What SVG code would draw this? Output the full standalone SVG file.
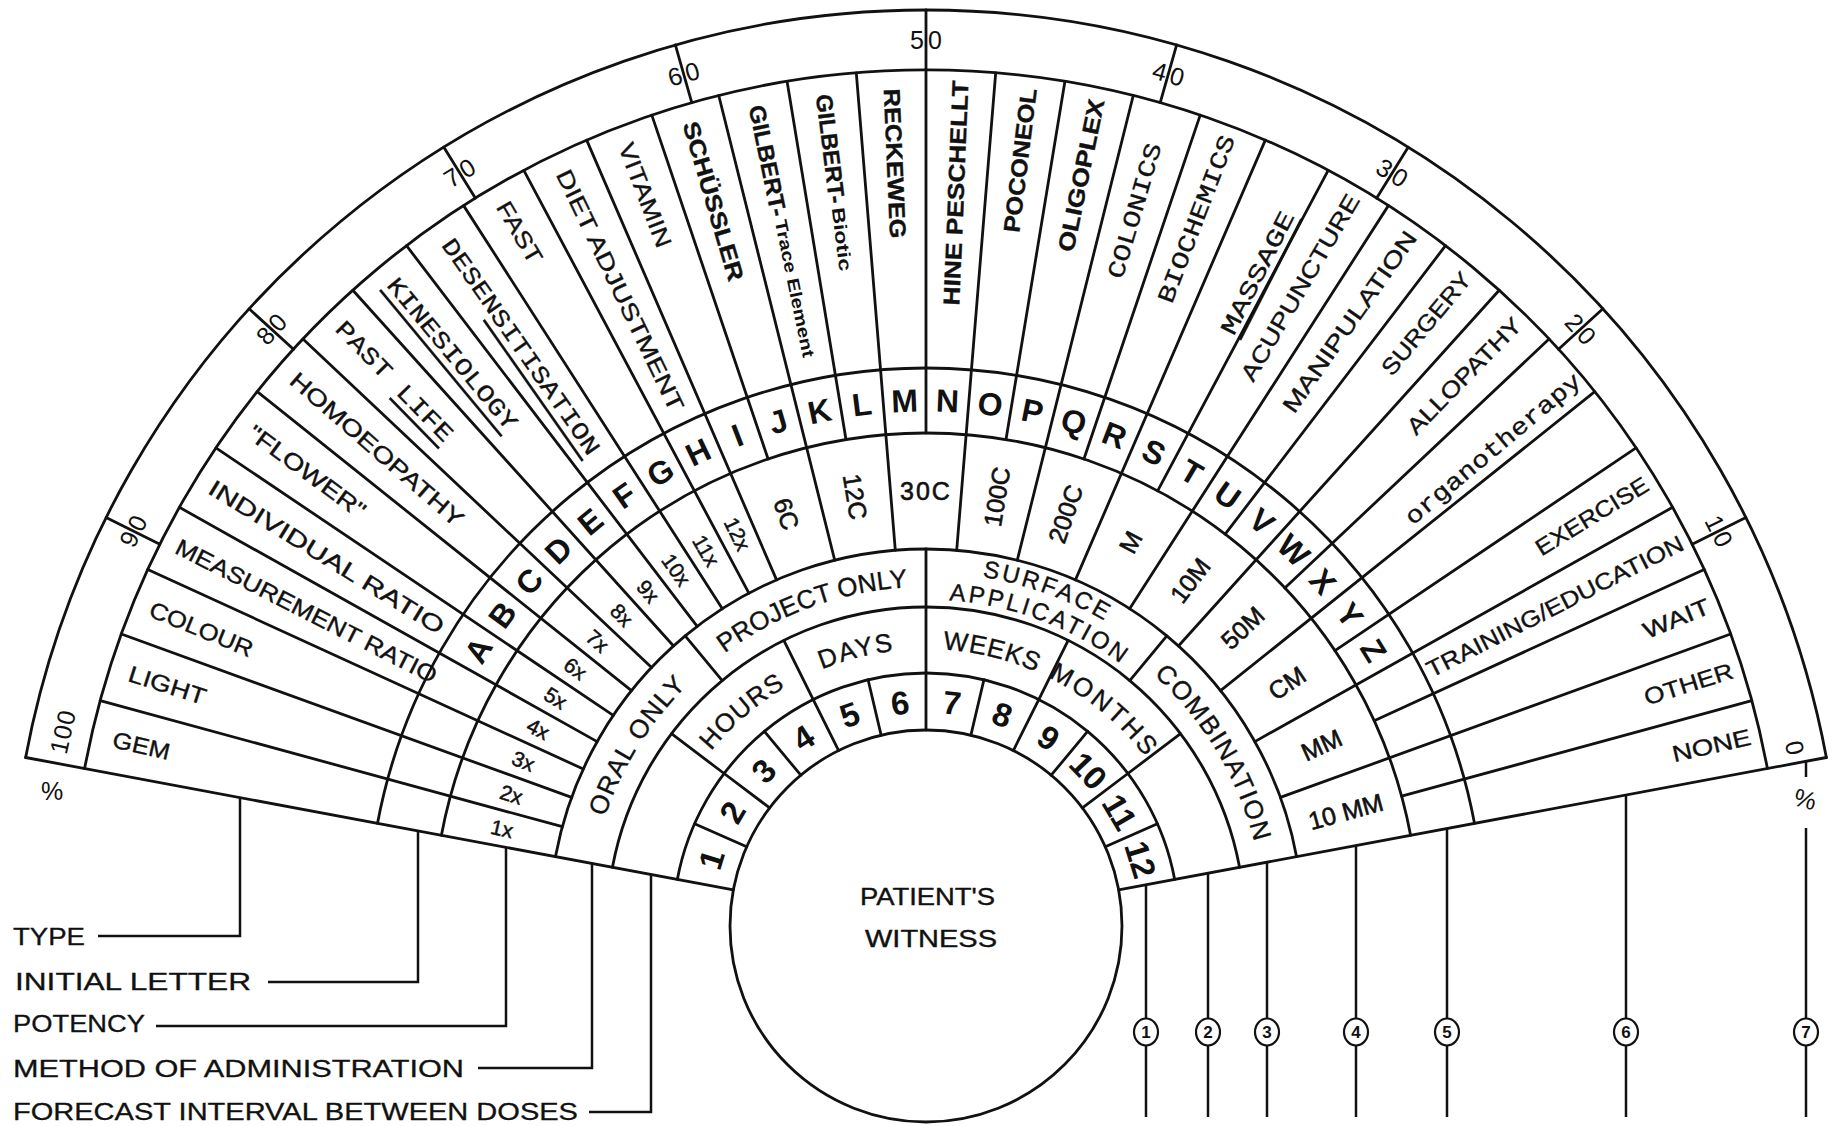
<svg xmlns="http://www.w3.org/2000/svg" width="1838" height="1126" viewBox="0 0 1838 1126">
<style>
.ln{fill:none;stroke:#111;stroke-width:2.8;stroke-linecap:round}
.cn{fill:none;stroke:#111;stroke-width:2.5}
text{font-family:"Liberation Sans",Arial,sans-serif;fill:#111}
.c{dominant-baseline:central}
.bd{font-weight:bold}
.mo{font-family:"Liberation Mono","Courier New",monospace}
.ty{font-size:23px;stroke:#111;stroke-width:0.35}
.tm{font-size:24px;stroke:#111;stroke-width:0.3}
.s{text-anchor:start}
.e{text-anchor:end}
.lt{font-size:32px;font-weight:bold;text-anchor:middle;dominant-baseline:central}
.po{font-size:25px;text-anchor:middle;dominant-baseline:central;stroke:#111;stroke-width:0.6}
.px{font-size:21px;text-anchor:middle;dominant-baseline:central;stroke:#111;stroke-width:0.5}
.nu{font-size:33px;font-weight:bold;text-anchor:middle;dominant-baseline:central}
.pc{font-size:25px;text-anchor:middle;dominant-baseline:central;letter-spacing:4px}
.ar{font-size:26px;text-anchor:middle;stroke:#111;stroke-width:0.35}
.lg{font-size:23px;stroke:#111;stroke-width:0.3}
.cc{fill:#fff;stroke:#111;stroke-width:2.2}
.cd{font-size:17px;font-weight:bold;text-anchor:middle}
</style>
<defs>
<line id="lA" class="ln" y1="-377" y2="-856"/>
<line id="lB" class="ln" y1="-493" y2="-856"/>
<line id="lT" class="ln" y1="-856" y2="-916"/>
<line id="lM" class="ln" y1="-319" y2="-377"/>
<line id="lI" class="ln" y1="-253" y2="-319"/>
<line id="lN" class="ln" y1="-196" y2="-253"/>
<path id="pM" d="M -333.22 -62.36 A 339 339 0 0 1 333.22 -62.36"/>
<path id="pS" d="M -347.47 -65.03 A 353.5 353.5 0 0 1 347.47 -65.03"/>
<path id="pA" d="M -320.93 -60.06 A 326.5 326.5 0 0 1 320.93 -60.06"/>
<path id="pI" d="M -272.27 -50.95 A 277 277 0 0 1 272.27 -50.95"/>
</defs>
<rect width="1838" height="1126" fill="#fff"/>
<g id="chart" transform="translate(926,926)">
<g id="rings">
<circle class="ln" r="196"/>
<path class="ln" d="M -248.68 -46.54 A 253 253 0 0 1 248.68 -46.54"/>
<path class="ln" d="M -313.56 -58.68 A 319 319 0 0 1 313.56 -58.68"/>
<path class="ln" d="M -370.57 -69.35 A 377 377 0 0 1 370.57 -69.35"/>
<path class="ln" d="M -484.59 -90.69 A 493 493 0 0 1 484.59 -90.69"/>
<path class="ln" d="M -548.48 -102.64 A 558 558 0 0 1 548.48 -102.64"/>
<path class="ln" d="M -841.40 -157.46 A 856 856 0 0 1 841.40 -157.46"/>
<path class="ln" d="M -900.37 -168.50 A 916 916 0 0 1 900.37 -168.50"/>
<line class="ln" y1="-196" y2="-916" transform="rotate(-79.4)"/>
<line class="ln" y1="-196" y2="-916" transform="rotate(79.4)"/>
<line class="ln" y1="-196" y2="-377"/>
<line class="ln" y1="-493" y2="-916"/>
</g>
<g id="dividers">
<use href="#lA" transform="rotate(-4.6706)"/>
<use href="#lB" transform="rotate(-9.3412)"/>
<use href="#lA" transform="rotate(-14.0118)"/>
<use href="#lB" transform="rotate(-18.6824)"/>
<use href="#lA" transform="rotate(-23.3529)"/>
<use href="#lA" transform="rotate(-28.0235)"/>
<use href="#lA" transform="rotate(-32.6941)"/>
<use href="#lA" transform="rotate(-37.3647)"/>
<use href="#lA" transform="rotate(-42.0353)"/>
<use href="#lA" transform="rotate(-46.7059)"/>
<use href="#lA" transform="rotate(-51.3765)"/>
<use href="#lA" transform="rotate(-56.0471)"/>
<use href="#lA" transform="rotate(-60.7176)"/>
<use href="#lA" transform="rotate(-65.3882)"/>
<use href="#lA" transform="rotate(-70.0588)"/>
<use href="#lA" transform="rotate(-74.7294)"/>
<use href="#lA" transform="rotate(4.6706)"/>
<use href="#lB" transform="rotate(9.3412)"/>
<use href="#lA" transform="rotate(14.0118)"/>
<use href="#lB" transform="rotate(18.6824)"/>
<use href="#lA" transform="rotate(23.3529)"/>
<use href="#lB" transform="rotate(28.0235)"/>
<use href="#lA" transform="rotate(32.6941)"/>
<use href="#lB" transform="rotate(37.3647)"/>
<use href="#lA" transform="rotate(42.0353)"/>
<use href="#lB" transform="rotate(46.7059)"/>
<use href="#lA" transform="rotate(51.3765)"/>
<use href="#lB" transform="rotate(56.0471)"/>
<use href="#lA" transform="rotate(60.7176)"/>
<use href="#lB" transform="rotate(65.3882)"/>
<use href="#lA" transform="rotate(70.0588)"/>
<use href="#lB" transform="rotate(74.7294)"/>
<use href="#lT" transform="rotate(-15.88)"/>
<use href="#lT" transform="rotate(-31.76)"/>
<use href="#lT" transform="rotate(-47.64)"/>
<use href="#lT" transform="rotate(-63.52)"/>
<use href="#lT" transform="rotate(15.88)"/>
<use href="#lT" transform="rotate(31.76)"/>
<use href="#lT" transform="rotate(47.64)"/>
<use href="#lT" transform="rotate(63.52)"/>
<use href="#lM" transform="rotate(-39.7)"/>
<use href="#lM" transform="rotate(39.7)"/>
<use href="#lI" transform="rotate(-26.4667)"/>
<use href="#lI" transform="rotate(-52.9333)"/>
<use href="#lI" transform="rotate(26.4667)"/>
<use href="#lI" transform="rotate(52.9333)"/>
<use href="#lN" transform="rotate(-13.2333)"/>
<use href="#lN" transform="rotate(-26.4667)"/>
<use href="#lN" transform="rotate(-39.7)"/>
<use href="#lN" transform="rotate(-52.9333)"/>
<use href="#lN" transform="rotate(-66.1667)"/>
<use href="#lN" transform="rotate(13.2333)"/>
<use href="#lN" transform="rotate(26.4667)"/>
<use href="#lN" transform="rotate(39.7)"/>
<use href="#lN" transform="rotate(52.9333)"/>
<use href="#lN" transform="rotate(66.1667)"/>
</g>
<g id="percent-scale">
<text class="pc" transform="rotate(63.52) translate(0,-886)" x="2">10</text>
<text class="pc" transform="rotate(47.64) translate(0,-886)" x="2">20</text>
<text class="pc" transform="rotate(31.76) translate(0,-886)" x="2">30</text>
<text class="pc" transform="rotate(15.88) translate(0,-886)" x="2">40</text>
<text class="pc" transform="translate(0,-886)" x="2">50</text>
<text class="pc" transform="rotate(-15.88) translate(0,-886)" x="2">60</text>
<text class="pc" transform="rotate(-31.76) translate(0,-886)" x="2">70</text>
<text class="pc" transform="rotate(-47.64) translate(0,-886)" x="2">80</text>
<text class="pc" transform="rotate(-63.52) translate(0,-886)" x="2">90</text>
<text class="pc" transform="rotate(-77.3) translate(0,-885)" style="letter-spacing:1px">100</text>
<text class="pc" transform="rotate(78.4) translate(0,-887)" style="letter-spacing:0">0</text>
</g>
<g id="type-ring">
<text id="t-reckeweg" class="ty bd s c" transform="rotate(-2.3353) translate(0,-838) rotate(90)" textLength="150" lengthAdjust="spacingAndGlyphs">RECKEWEG</text>
<g id="t-gilbert-biotic">
<text class="ty bd s c" transform="rotate(-7.0059) translate(0,-838) rotate(90)" textLength="110" lengthAdjust="spacingAndGlyphs">GILBERT-</text>
<text class="bd s c" font-size="18" transform="rotate(-7.0059) translate(0,-724) rotate(90)" textLength="64" lengthAdjust="spacingAndGlyphs">Biotic</text>
</g>
<g id="t-gilbert-trace">
<text class="ty bd s c" transform="rotate(-11.6765) translate(0,-838) rotate(90)" textLength="113" lengthAdjust="spacingAndGlyphs">GILBERT-</text>
<text class="bd s c" font-size="17" transform="rotate(-11.6765) translate(0,-721) rotate(90)" textLength="140" lengthAdjust="spacingAndGlyphs">Trace Element</text>
</g>
<text id="t-schussler" class="ty bd s c" transform="rotate(-16.3471) translate(0,-838) rotate(90)" textLength="165" lengthAdjust="spacingAndGlyphs">SCHÜSSLER</text>
<text id="t-vitamin" class="ty s c" transform="rotate(-21.0176) translate(0,-838) rotate(90)" textLength="110" lengthAdjust="spacingAndGlyphs">VITAMIN</text>
<text id="t-diet" class="ty s c" transform="rotate(-25.6882) translate(0,-838) rotate(90)" textLength="265" lengthAdjust="spacingAndGlyphs">DIET ADJUSTMENT</text>
<text id="t-fast" class="ty s c" transform="rotate(-30.3588) translate(0,-838) rotate(90)" textLength="68" lengthAdjust="spacingAndGlyphs">FAST</text>
<text id="t-desens" class="tm mo s c" transform="rotate(-35.0294) translate(0,-836) rotate(90)" textLength="258" lengthAdjust="spacingAndGlyphs">DESEN<tspan text-decoration="underline">SITISATION</tspan></text>
<text id="t-kines" class="tm mo s c" transform="rotate(-39.7) translate(0,-838) rotate(90)" textLength="190" lengthAdjust="spacingAndGlyphs" text-decoration="underline">KINESIOLOGY</text>
<text id="t-pastlife" class="tm mo s c" transform="rotate(-44.3706) translate(0,-840) rotate(90)" textLength="158" lengthAdjust="spacingAndGlyphs">PAST <tspan text-decoration="underline">LIFE</tspan></text>
<text id="t-homoeo" class="ty s c" transform="rotate(-49.0412) translate(0,-838) rotate(90)" textLength="222" lengthAdjust="spacingAndGlyphs">HOMOEOPATHY</text>
<text id="t-flower" class="ty s c" transform="rotate(-53.7118) translate(0,-838) rotate(90)" textLength="140" lengthAdjust="spacingAndGlyphs">"FLOWER"</text>
<text id="t-indiv" class="ty s c" transform="rotate(-58.3824) translate(0,-840) rotate(90)" textLength="272" lengthAdjust="spacingAndGlyphs">INDIVIDUAL RATIO</text>
<text id="t-meas" class="ty s c" transform="rotate(-63.0529) translate(0,-840) rotate(90)" textLength="290" lengthAdjust="spacingAndGlyphs">MEASUREMENT RATIO</text>
<text id="t-colour" class="ty s c" transform="rotate(-67.7235) translate(0,-838) rotate(90)" textLength="110" lengthAdjust="spacingAndGlyphs">COLOUR</text>
<text id="t-light" class="ty s c" transform="rotate(-72.3941) translate(0,-836) rotate(90)" textLength="80" lengthAdjust="spacingAndGlyphs">LIGHT</text>
<text id="t-gem" class="ty s c" transform="rotate(-77.0647) translate(0,-834) rotate(90)" textLength="58" lengthAdjust="spacingAndGlyphs">GEM</text>
<text id="t-hine" class="ty bd e c" transform="rotate(2.3353) translate(0,-846) rotate(-90)" textLength="225" lengthAdjust="spacingAndGlyphs">HINE PESCHELLT</text>
<text id="t-poconeol" class="ty bd e c" transform="rotate(7.0059) translate(0,-844) rotate(-90)" textLength="145" lengthAdjust="spacingAndGlyphs">POCONEOL</text>
<text id="t-oligoplex" class="ty bd e c" transform="rotate(11.6765) translate(0,-844) rotate(-90)" textLength="155" lengthAdjust="spacingAndGlyphs">OLIGOPLEX</text>
<text id="t-colonics" class="tm mo e c" transform="rotate(16.3471) translate(0,-815) rotate(-90)" textLength="140" lengthAdjust="spacingAndGlyphs">COLONICS</text>
<text id="t-biochemics" class="tm mo e c" transform="rotate(21.0176) translate(0,-846) rotate(-90)" textLength="178" lengthAdjust="spacingAndGlyphs">BIOCHEMICS</text>
<text id="t-massage" class="tm mo e c" transform="rotate(27) translate(0,-800) rotate(-90)" textLength="135" lengthAdjust="spacingAndGlyphs" text-decoration="underline">MASSAGE</text>
<text id="t-acupuncture" class="ty e c" transform="rotate(30.3588) translate(0,-846) rotate(-90)" textLength="212" lengthAdjust="spacingAndGlyphs">ACUPUNCTURE</text>
<text id="t-manipulation" class="ty e c" transform="rotate(35.0294) translate(0,-846) rotate(-90)" textLength="216" lengthAdjust="spacingAndGlyphs">MANIPULATION</text>
<text id="t-surgery" class="ty e c" transform="rotate(39.7) translate(0,-846) rotate(-90)" textLength="126" lengthAdjust="spacingAndGlyphs">SURGERY</text>
<text id="t-allopathy" class="ty e c" transform="rotate(44.3706) translate(0,-846) rotate(-90)" textLength="153" lengthAdjust="spacingAndGlyphs">ALLOPATHY</text>
<text id="t-organo" class="tm mo e c" transform="rotate(50) translate(0,-852) rotate(-90)" textLength="222" lengthAdjust="spacingAndGlyphs">organotherapy</text>
<text id="t-exercise" class="ty e c" transform="rotate(58.3824) translate(0,-846) rotate(-90)" textLength="128" lengthAdjust="spacingAndGlyphs">EXERCISE</text>
<text id="t-training" class="ty e c" transform="rotate(63.0529) translate(0,-848) rotate(-90)" textLength="285" lengthAdjust="spacingAndGlyphs">TRAINING/EDUCATION</text>
<text id="t-wait" class="ty e c" transform="rotate(67.7235) translate(0,-846) rotate(-90)" textLength="70" lengthAdjust="spacingAndGlyphs">WAIT</text>
<text id="t-other" class="ty e c" transform="rotate(72.3941) translate(0,-846) rotate(-90)" textLength="92" lengthAdjust="spacingAndGlyphs">OTHER</text>
<text id="t-none" class="ty e c" transform="rotate(77.0647) translate(0,-846) rotate(-90)" textLength="80" lengthAdjust="spacingAndGlyphs">NONE</text>
</g>
<g id="letter-ring">
<text class="lt" transform="rotate(-58.3824) translate(0,-525.5)">A</text>
<text class="lt" transform="rotate(-53.7118) translate(0,-525.5)">B</text>
<text class="lt" transform="rotate(-49.0412) translate(0,-525.5)">C</text>
<text class="lt" transform="rotate(-44.3706) translate(0,-525.5)">D</text>
<text class="lt" transform="rotate(-39.7) translate(0,-525.5)">E</text>
<text class="lt" transform="rotate(-35.0294) translate(0,-525.5)">F</text>
<text class="lt" transform="rotate(-30.3588) translate(0,-525.5)">G</text>
<text class="lt" transform="rotate(-25.6882) translate(0,-525.5)">H</text>
<text class="lt" transform="rotate(-21.0176) translate(0,-525.5)">I</text>
<text class="lt" transform="rotate(-16.3471) translate(0,-525.5)">J</text>
<text class="lt" transform="rotate(-11.6765) translate(0,-525.5)">K</text>
<text class="lt" transform="rotate(-7.0059) translate(0,-525.5)">L</text>
<text class="lt" transform="rotate(-2.3353) translate(0,-525.5)">M</text>
<text class="lt" transform="rotate(2.3353) translate(0,-525.5)">N</text>
<text class="lt" transform="rotate(7.0059) translate(0,-525.5)">O</text>
<text class="lt" transform="rotate(11.6765) translate(0,-525.5)">P</text>
<text class="lt" transform="rotate(16.3471) translate(0,-525.5)">Q</text>
<text class="lt" transform="rotate(21.0176) translate(0,-525.5)">R</text>
<text class="lt" transform="rotate(25.6882) translate(0,-525.5)">S</text>
<text class="lt" transform="rotate(30.3588) translate(0,-525.5)">T</text>
<text class="lt" transform="rotate(35.0294) translate(0,-525.5)">U</text>
<text class="lt" transform="rotate(39.7) translate(0,-525.5)">V</text>
<text class="lt" transform="rotate(44.3706) translate(0,-525.5)">W</text>
<text class="lt" transform="rotate(49.0412) translate(0,-525.5)">X</text>
<text class="lt" transform="rotate(53.7118) translate(0,-525.5)">Y</text>
<text class="lt" transform="rotate(58.3824) translate(0,-525.5)">Z</text>
</g>
<g id="potency-ring">
<text class="px" transform="rotate(-77.0647) translate(0,-435) rotate(90)">1x</text>
<text class="px" transform="rotate(-72.3941) translate(0,-435) rotate(90)">2x</text>
<text class="px" transform="rotate(-67.7235) translate(0,-435) rotate(90)">3x</text>
<text class="px" transform="rotate(-63.0529) translate(0,-435) rotate(90)">4x</text>
<text class="px" transform="rotate(-58.3824) translate(0,-435) rotate(90)">5x</text>
<text class="px" transform="rotate(-53.7118) translate(0,-435) rotate(90)">6x</text>
<text class="px" transform="rotate(-49.0412) translate(0,-435) rotate(90)">7x</text>
<text class="px" transform="rotate(-44.3706) translate(0,-435) rotate(90)">8x</text>
<text class="px" transform="rotate(-39.7) translate(0,-435) rotate(90)">9x</text>
<text class="px" transform="rotate(-35.0294) translate(0,-435) rotate(90)">10x</text>
<text class="px" transform="rotate(-30.3588) translate(0,-435) rotate(90)">11x</text>
<text class="px" transform="rotate(-25.6882) translate(0,-435) rotate(90)">12x</text>
<text class="po" transform="rotate(-18.6824) translate(0,-435) rotate(90)">6C</text>
<text class="po" transform="rotate(-9.3412) translate(0,-435) rotate(90)">12C</text>
<text class="po" transform="translate(0,-435)" style="letter-spacing:2px">30C</text>
<text class="po" transform="rotate(9.3412) translate(0,-435) rotate(-90)">100C</text>
<text class="po" transform="rotate(18.6824) translate(0,-435) rotate(-90)">200C</text>
<text class="po" transform="rotate(28.0235) translate(0,-435) rotate(-90)">M</text>
<text class="po" transform="rotate(37.3647) translate(0,-435) rotate(-90)">10M</text>
<text class="po" transform="rotate(46.7059) translate(0,-435) rotate(-90)">50M</text>
<text class="po" transform="rotate(56.0471) translate(0,-435) rotate(-90)">CM</text>
<text class="po" transform="rotate(65.3882) translate(0,-435) rotate(-90)">MM</text>
<text class="po" transform="rotate(74.7294) translate(0,-435) rotate(-90)">10 MM</text>
</g>
<g id="method-ring">
<text class="ar" style="letter-spacing:1.2px"><textPath href="#pM" startOffset="126.62">ORAL ONLY</textPath></text>
<text class="ar"><textPath href="#pM" startOffset="352.63">PROJECT ONLY</textPath></text>
<text class="ar" style="font-size:24px;letter-spacing:2.8px"><textPath href="#pS" startOffset="612.67">SURFACE</textPath></text>
<text class="ar" style="font-size:24px;letter-spacing:2.8px"><textPath href="#pA" startOffset="569.3">APPLICATION</textPath></text>
<text class="ar" style="letter-spacing:1.6px"><textPath href="#pM" startOffset="818.86">COMBINATION</textPath></text>
</g>
<g id="interval-ring">
<text class="ar" style="letter-spacing:1.1px"><textPath href="#pI" startOffset="187.58">HOURS</textPath></text>
<text class="ar" style="letter-spacing:1.7px"><textPath href="#pI" startOffset="314.73">DAYS</textPath></text>
<text class="ar" style="letter-spacing:0.6px"><textPath href="#pI" startOffset="449.13">WEEKS</textPath></text>
<text class="ar" style="letter-spacing:2.7px"><textPath href="#pI" startOffset="574.83">MONTHS</textPath></text>
</g>
<g id="number-ring">
<text class="nu" transform="rotate(-72.7833) translate(0,-224.5)">1</text>
<text class="nu" transform="rotate(-59.55) translate(0,-224.5)">2</text>
<text class="nu" transform="rotate(-46.3167) translate(0,-224.5)">3</text>
<text class="nu" transform="rotate(-33.0833) translate(0,-224.5)">4</text>
<text class="nu" transform="rotate(-19.85) translate(0,-224.5)">5</text>
<text class="nu" transform="rotate(-6.6167) translate(0,-224.5)">6</text>
<text class="nu" transform="rotate(6.6167) translate(0,-224.5)">7</text>
<text class="nu" transform="rotate(19.85) translate(0,-224.5)">8</text>
<text class="nu" transform="rotate(33.0833) translate(0,-224.5)">9</text>
<text class="nu" transform="rotate(46.3167) translate(0,-224.5)">10</text>
<text class="nu" transform="rotate(59.55) translate(0,-224.5)">11</text>
<text class="nu" transform="rotate(72.7833) translate(0,-224.5)">12</text>
</g>
</g>
<g id="witness">
<text x="860" y="905" font-size="24" stroke="#111" stroke-width="0.4" textLength="135" lengthAdjust="spacingAndGlyphs">PATIENT'S</text>
<text x="865" y="947" font-size="24" stroke="#111" stroke-width="0.4" textLength="132" lengthAdjust="spacingAndGlyphs">WITNESS</text>
</g>
<g id="percent-signs">
<text x="52" y="800" font-size="25" text-anchor="middle">%</text>
<text x="1805" y="808" font-size="25" text-anchor="middle" transform="rotate(15 1805 800)">%</text>
</g>
<g id="legend">
<text class="lg" x="13" y="945" textLength="72" lengthAdjust="spacingAndGlyphs">TYPE</text>
<text class="lg" x="15" y="990" textLength="236" lengthAdjust="spacingAndGlyphs">INITIAL LETTER</text>
<text class="lg" x="13" y="1032" textLength="132" lengthAdjust="spacingAndGlyphs">POTENCY</text>
<text class="lg" x="13" y="1077" textLength="451" lengthAdjust="spacingAndGlyphs">METHOD OF ADMINISTRATION</text>
<text class="lg" x="13" y="1120" textLength="565" lengthAdjust="spacingAndGlyphs">FORECAST INTERVAL BETWEEN DOSES</text>
</g>
<g id="connectors">
<polyline class="cn" points="98,936 240,936 240,797.6"/>
<polyline class="cn" points="268,982 418,982 418,830.9"/>
<polyline class="cn" points="156,1026 506,1026 506,847.4"/>
<polyline class="cn" points="478,1068 592,1068 592,863.5"/>
<polyline class="cn" points="589,1112 651,1112 651,874.5"/>
<line class="cn" x1="1146" y1="884.8" x2="1146" y2="1117"/>
<line class="cn" x1="1208" y1="873.2" x2="1208" y2="1117"/>
<line class="cn" x1="1267" y1="862.2" x2="1267" y2="1117"/>
<line class="cn" x1="1356" y1="845.5" x2="1356" y2="1117"/>
<line class="cn" x1="1447" y1="828.5" x2="1447" y2="1117"/>
<line class="cn" x1="1626" y1="795" x2="1626" y2="1117"/>
<line class="cn" x1="1806" y1="761.3" x2="1806" y2="777"/>
<line class="cn" x1="1806" y1="828" x2="1806" y2="1117"/>
</g>
<g id="ring-markers">
<ellipse class="cc" cx="1146" cy="1032" rx="12" ry="13.5"/><text class="cd" x="1146" y="1038">1</text>
<ellipse class="cc" cx="1208" cy="1032" rx="12" ry="13.5"/><text class="cd" x="1208" y="1038">2</text>
<ellipse class="cc" cx="1267" cy="1032" rx="12" ry="13.5"/><text class="cd" x="1267" y="1038">3</text>
<ellipse class="cc" cx="1356" cy="1032" rx="12" ry="13.5"/><text class="cd" x="1356" y="1038">4</text>
<ellipse class="cc" cx="1447" cy="1032" rx="12" ry="13.5"/><text class="cd" x="1447" y="1038">5</text>
<ellipse class="cc" cx="1626" cy="1032" rx="12" ry="13.5"/><text class="cd" x="1626" y="1038">6</text>
<ellipse class="cc" cx="1806" cy="1032" rx="12" ry="13.5"/><text class="cd" x="1806" y="1038">7</text>
</g>
</svg>
